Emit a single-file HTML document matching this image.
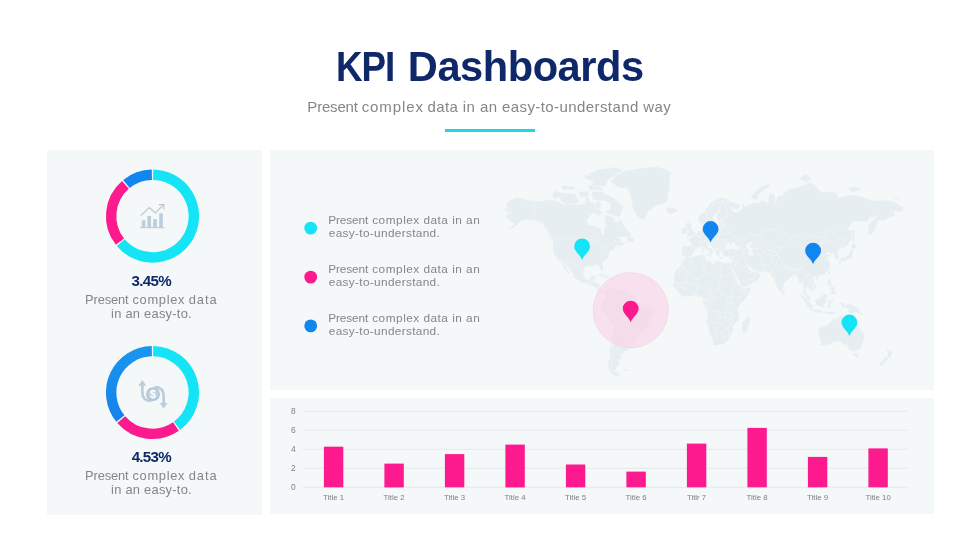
<!DOCTYPE html>
<html lang="en">
<head>
<meta charset="utf-8">
<title>KPI Dashboards</title>
<style>
html,body{margin:0;padding:0;background:#fff}
body{width:980px;height:551px;position:relative;overflow:hidden;font-family:"Liberation Sans",sans-serif}
.panel{position:absolute;background:#f4f8f9}
#p1{left:46.5px;top:150px;width:215.7px;height:364.5px}
#p2{left:269.5px;top:150px;width:664.5px;height:239.5px}
#p3{left:269.5px;top:397.7px;width:664.5px;height:116.8px}
#rule{position:absolute;left:445px;top:128.8px;width:89.8px;height:3.3px;background:#21d7e6}
.t{position:absolute;white-space:pre;line-height:1;margin:0;width:980px}
.t span{position:absolute;top:0;white-space:pre}
svg{position:absolute;left:0;top:0}
svg text{font-family:"Liberation Sans",sans-serif}
#t1{left:0;top:46px;font-size:41.6px;font-weight:700;color:#0f2869}
#t2{left:0;top:99px;font-size:15.0px;font-weight:400;color:#83868a}
#v1{left:0;top:273px;font-size:15.1px;font-weight:700;color:#0f2869}
#a1{left:0;top:294px;font-size:12.9px;font-weight:400;color:#83868a}
#a2{left:0;top:308px;font-size:12.9px;font-weight:400;color:#83868a}
#v2{left:0;top:449px;font-size:15.1px;font-weight:700;color:#0f2869}
#b1{left:0;top:470px;font-size:12.9px;font-weight:400;color:#83868a}
#b2{left:0;top:484px;font-size:12.9px;font-weight:400;color:#83868a}
#l0a{left:0;top:215px;font-size:11.8px;font-weight:400;color:#83868a}
#l0b{left:0;top:228px;font-size:11.8px;font-weight:400;color:#83868a}
#l1a{left:0;top:264px;font-size:11.8px;font-weight:400;color:#83868a}
#l1b{left:0;top:277px;font-size:11.8px;font-weight:400;color:#83868a}
#l2a{left:0;top:313px;font-size:11.8px;font-weight:400;color:#83868a}
#l2b{left:0;top:326px;font-size:11.8px;font-weight:400;color:#83868a}
</style>
</head>
<body>
<div class="panel" id="p1"></div>
<div class="panel" id="p2"></div>
<div class="panel" id="p3"></div>
<div id="rule"></div>
<svg width="980" height="551" viewBox="0 0 980 551">
<path d="M504.0 209.6L508.5 207.8L505.7 204.1L511.9 199.9L516.9 197.8L526.5 199.9L534.4 201.4L542.2 201.6L549.0 199.9L555.8 201.0L563.6 204.8L571.5 204.4L579.4 205.2L585.0 204.1L586.7 196.4L590.6 202.1L596.2 204.8L597.4 201.0L601.3 203.7L599.6 208.2L595.7 208.4L594.0 212.7L590.6 214.6L587.2 219.2L586.7 222.4L588.9 225.3L594.0 226.1L600.2 228.3L600.8 232.1L602.4 234.7L604.1 234.2L604.1 229.5L606.7 225.6L604.7 222.2L605.8 215.7L610.3 216.1L614.2 218.3L614.8 222.2L618.8 222.2L620.2 219.5L623.5 224.8L625.5 228.7L629.4 231.9L630.2 234.3L626.6 236.4L618.8 236.4L615.4 239.0L620.4 238.4L619.9 240.9L621.0 242.5L624.4 243.1L625.5 242.5L624.4 244.0L621.6 244.9L619.2 246.5L618.8 244.3L617.6 244.7L614.2 246.5L614.2 249.1L609.8 250.7L608.1 254.3L608.1 258.1L605.2 259.8L601.9 263.1L603.0 268.9L602.4 271.2L601.0 270.2L600.0 267.7L598.5 265.1L596.2 264.7L592.9 264.8L592.5 266.4L590.6 266.0L587.2 265.7L583.9 267.7L583.3 270.9L583.0 274.7L585.0 278.8L586.7 280.0L590.1 279.6L591.2 276.5L595.1 275.9L594.6 279.6L593.4 282.7L596.2 282.8L599.3 283.9L598.8 288.8L600.2 290.9L603.0 291.0L604.1 290.6L606.0 291.8L605.8 293.4L604.7 291.8L603.0 293.3L599.9 292.2L597.4 290.0L596.5 288.8L594.6 286.4L591.8 285.4L589.2 284.3L586.7 282.5L583.9 283.0L580.5 281.5L576.0 279.0L574.3 277.2L574.3 274.7L571.5 271.1L569.2 268.3L566.4 265.7L565.6 263.3L563.9 262.8L564.2 265.1L566.4 268.3L568.1 270.9L569.5 274.0L567.0 271.8L564.2 268.3L562.7 265.1L561.1 261.6L559.7 259.8L557.3 258.9L555.8 256.0L555.1 254.6L553.5 251.1L553.2 247.2L553.5 242.5L552.7 239.2L554.6 238.3L552.4 236.2L549.6 234.3L546.8 229.5L545.1 227.0L542.2 223.1L538.9 222.2L535.5 220.4L531.0 220.1L526.5 219.2L522.6 221.3L522.0 218.6L520.3 221.3L516.9 224.8L513.0 227.7L507.9 229.2L511.9 226.5L515.2 223.2L515.8 222.2L510.8 222.2L510.8 220.1L507.4 218.3L506.2 215.9L507.4 214.6L511.9 213.1L511.9 211.7L507.4 211.7ZM610.9 181.3L616.5 175.2L625.5 170.9L642.4 168.6L655.9 167.1L664.9 169.2L670.5 172.4L669.4 177.9L669.4 184.4L668.8 190.5L667.1 196.2L667.7 199.9L663.8 203.7L657.0 204.8L651.4 208.8L648.0 210.8L645.2 216.4L644.1 220.1L641.2 218.6L637.9 216.4L635.1 212.3L632.8 206.8L632.2 201.6L631.1 197.3L627.8 188.1L618.8 186.9L613.1 183.6ZM592.3 192.1L601.9 192.1L606.4 194.4L613.1 198.0L617.1 201.6L623.2 207.2L621.0 210.8L619.9 216.8L612.6 214.9L605.2 211.7L610.3 209.8L610.9 203.7L604.1 200.1L597.4 200.6L592.9 198.4ZM560.2 197.3L563.6 193.3L574.9 194.0L578.8 201.6L573.8 203.3L565.9 203.7L561.4 201.0ZM552.4 196.2L554.6 190.9L562.5 193.3L559.1 197.3L553.5 198.0ZM591.8 185.6L605.2 185.6L608.6 179.2L623.2 169.5L614.2 167.7L597.4 170.1L589.5 173.8L595.1 177.9ZM589.5 185.6L603.0 188.1L602.4 190.2L589.5 189.8ZM562.5 185.6L574.9 186.9L573.8 189.3L562.5 189.3ZM578.2 192.1L588.4 191.6L587.8 196.2L580.5 196.7ZM585.0 175.2L594.0 176.5L594.0 181.1L585.0 177.9ZM595.1 209.8L598.5 209.2L602.4 212.7L599.6 214.9L595.1 213.4ZM626.3 240.1L630.0 234.3L630.6 236.7L633.4 239.0L633.6 241.6L630.6 241.6ZM548.7 235.6L552.4 236.7L554.2 239.2L551.8 238.6ZM597.4 275.5L600.8 273.8L606.4 275.9L609.5 277.5L605.6 278.0L604.7 276.5L600.8 275.3L598.5 275.5ZM609.3 279.6L611.1 277.9L616.0 279.5L612.6 280.5ZM666.0 209.8L668.2 208.0L675.0 208.0L677.8 210.8L672.2 213.8L667.7 212.9ZM606.0 291.8L608.1 289.0L612.0 287.3L612.6 288.8L614.2 287.6L616.5 289.3L621.0 289.6L623.2 289.2L625.5 291.8L628.9 294.8L632.2 295.1L635.1 296.7L636.8 300.2L636.8 302.0L639.0 302.8L642.9 305.0L648.0 305.3L651.4 307.7L653.6 308.6L653.9 311.6L651.4 315.2L649.1 317.6L649.1 322.5L647.4 327.5L645.8 329.8L642.4 330.7L638.4 333.8L638.2 337.0L634.5 342.2L632.8 344.7L629.4 345.3L627.4 344.2L628.9 347.6L628.1 350.0L623.2 351.1L622.9 353.9L619.9 353.9L621.3 356.5L619.5 359.7L617.1 361.5L619.0 363.9L616.5 367.3L615.4 370.8L616.2 372.1L619.6 375.0L615.9 376.2L612.6 373.7L609.8 371.3L608.1 365.0L609.2 360.4L610.9 355.3L610.0 351.1L610.6 348.3L612.6 342.9L612.6 337.6L613.9 331.2L613.9 324.1L611.4 322.3L607.3 318.6L604.7 313.4L601.9 309.2L601.5 307.4L603.0 305.6L602.0 304.6L603.0 302.0L603.0 300.8L604.4 299.8L605.8 297.2L605.9 294.2L605.4 293.3ZM686.4 257.3L690.8 258.1L696.4 256.0L704.2 255.3L705.4 258.4L704.6 260.0L706.5 261.4L710.4 262.4L714.4 264.7L715.5 261.8L718.9 261.6L721.1 262.8L725.6 263.7L729.3 263.3L729.6 265.1L730.7 267.7L732.9 272.8L735.0 276.5L734.9 279.0L737.2 283.3L741.4 287.0L741.7 288.2L745.9 288.6L750.6 287.7L750.1 290.6L747.0 296.0L744.8 299.0L740.8 303.2L738.0 306.2L737.2 310.1L738.6 314.6L738.7 320.1L734.6 323.5L732.4 326.2L732.9 331.2L730.0 333.8L729.6 337.4L727.3 340.3L723.4 344.0L718.9 344.5L715.5 345.3L713.7 344.5L713.5 341.6L711.6 337.1L709.9 333.8L709.3 329.3L706.3 322.5L708.1 317.0L708.5 314.6L706.8 309.2L706.3 307.4L703.5 303.2L703.7 300.8L703.9 297.5L702.6 296.6L699.8 296.9L697.5 294.5L695.8 294.5L691.9 295.8L689.6 296.0L687.4 295.8L684.6 296.7L682.9 296.0L680.1 293.7L678.1 291.8L677.8 290.6L676.1 288.8L674.2 287.0L673.3 284.3L674.7 282.1L674.7 279.0L673.9 276.5L675.0 273.4L676.7 270.2L678.4 268.0L681.8 265.7L682.0 263.1L683.4 260.7L685.7 259.1ZM748.5 316.4L749.8 320.7L748.7 323.7L746.4 332.2L743.6 333.1L741.9 328.7L742.8 325.6L742.5 322.5L745.3 320.7L747.0 318.2ZM686.7 257.0L682.9 255.7L682.3 253.3L683.1 249.4L682.6 246.9L684.0 246.2L689.1 246.5L691.1 246.6L691.6 242.8L690.2 240.9L687.7 239.2L691.2 238.7L691.3 237.2L693.2 237.3L694.8 235.5L696.9 234.5L698.3 231.9L700.9 231.1L702.6 230.3L702.1 226.1L704.8 224.1L704.8 227.0L704.2 229.5L705.4 230.3L708.8 230.3L713.8 229.2L716.6 228.3L716.6 225.3L720.0 224.8L719.4 221.8L724.5 220.6L726.8 220.1L721.1 219.7L717.8 220.1L717.2 217.3L717.0 214.6L721.1 210.8L720.0 209.2L717.2 211.7L712.7 216.4L712.5 219.2L714.4 220.9L711.6 225.3L711.0 226.7L709.0 228.0L707.4 227.8L707.1 226.1L705.6 221.8L702.0 223.4L699.2 221.8L698.6 217.3L700.9 214.6L704.2 212.7L707.6 207.8L709.9 204.1L713.8 201.0L718.9 198.9L721.9 198.2L724.5 198.4L727.9 199.9L730.1 201.6L739.1 204.8L739.1 207.2L738.0 208.8L732.4 207.8L729.6 206.8L731.8 210.8L734.6 212.7L738.6 211.7L742.5 208.8L742.5 203.7L745.9 206.8L752.6 203.7L760.5 202.7L761.6 200.6L768.4 203.7L768.4 198.4L770.1 194.0L774.6 195.1L775.1 203.7L775.1 206.8L777.4 197.3L779.6 196.2L783.6 196.2L784.1 192.8L790.9 189.3L799.9 186.9L810.3 182.6L814.5 185.1L820.7 192.1L835.9 192.8L839.2 198.4L842.6 197.3L850.5 195.1L861.8 197.3L873.0 201.2L884.2 200.6L891.0 201.2L895.5 202.7L903.9 208.2L901.1 211.7L895.5 210.8L893.2 211.7L894.9 215.5L888.8 217.0L884.2 220.1L878.6 220.1L876.9 223.6L875.2 227.0L875.2 229.0L873.0 231.9L869.3 235.1L868.0 228.7L869.6 223.9L873.0 220.1L876.9 216.8L876.4 215.5L873.0 217.3L869.1 217.3L867.4 221.3L860.6 220.9L853.9 221.3L850.5 224.4L847.1 229.5L851.6 231.5L851.6 233.5L851.1 239.0L848.2 243.6L844.9 246.8L841.5 247.2L839.8 248.2L838.7 250.4L836.4 252.2L838.5 255.7L838.1 258.3L835.3 259.3L835.1 255.7L833.6 254.3L833.6 252.1L829.7 253.2L830.2 250.8L825.8 252.9L825.5 253.9L826.9 255.3L830.8 255.4L828.0 257.0L827.2 258.7L829.1 261.8L830.2 263.7L829.7 267.0L827.4 270.9L824.6 273.4L821.2 274.9L817.3 276.3L816.8 277.4L815.1 275.7L813.0 277.2L812.0 279.0L813.9 282.1L816.0 286.4L815.6 288.2L813.4 289.5L811.1 291.6L811.1 290.0L808.9 289.0L808.3 287.6L806.5 285.8L805.5 287.6L804.7 290.0L805.8 292.4L807.2 293.9L809.3 296.6L810.2 300.3L807.0 298.7L805.8 295.4L803.6 292.4L803.9 289.4L803.2 285.8L802.7 282.1L800.4 282.7L799.3 282.7L799.1 279.6L796.8 276.5L795.9 274.7L793.1 275.5L790.9 276.2L790.3 277.8L787.5 279.9L785.2 282.1L783.2 283.3L783.2 286.4L782.8 289.6L781.9 290.9L780.2 292.3L778.8 290.1L777.1 286.4L775.7 282.7L774.9 279.0L774.8 276.5L772.3 276.8L770.6 275.3L771.8 274.7L770.1 273.4L768.4 271.8L765.0 271.1L762.2 271.4L757.7 270.7L756.6 268.9L753.8 269.3L750.9 267.9L749.2 265.1L747.6 265.1L747.0 265.7L749.2 269.6L750.9 271.5L751.0 272.5L753.8 272.5L756.2 270.0L756.7 272.1L759.0 273.3L760.3 274.7L758.2 279.0L754.9 281.5L751.5 283.2L747.6 285.2L743.6 286.6L741.7 286.7L741.0 283.9L738.6 279.0L736.9 275.9L735.2 272.4L732.4 267.7L732.1 265.7L731.5 267.9L729.7 265.1L729.3 263.3L731.6 263.3L732.4 261.4L733.3 258.4L733.7 256.0L731.2 256.6L729.0 256.8L727.3 256.4L724.5 256.1L723.7 255.0L722.6 252.5L722.5 251.5L725.6 250.1L727.9 249.8L732.4 248.7L735.2 250.1L739.7 249.4L739.1 247.2L735.2 244.7L736.3 241.3L732.4 242.8L730.7 245.0L730.1 242.8L727.5 242.1L726.4 244.0L725.1 246.5L724.5 248.7L725.4 249.8L722.8 250.5L720.0 250.4L719.4 251.5L718.9 250.8L718.9 252.5L720.0 254.3L718.3 256.4L717.0 254.6L715.5 252.2L714.8 249.4L712.7 247.2L709.9 245.0L708.3 243.4L706.8 243.8L707.1 245.8L708.8 248.2L711.0 248.9L713.8 251.2L712.1 250.8L711.6 252.2L712.2 252.9L710.7 254.3L711.0 252.9L710.2 251.2L709.0 250.4L706.8 249.1L704.8 247.4L704.2 245.8L702.9 245.2L701.2 246.2L698.6 246.6L696.6 246.9L696.6 248.2L693.9 250.1L693.0 252.2L692.7 253.3L690.8 256.0L687.9 256.1ZM745.9 244.3L748.7 242.1L752.6 241.8L752.6 244.3L750.4 245.0L749.6 245.3L750.9 247.2L752.4 249.4L752.6 251.5L753.5 252.9L753.5 255.7L750.4 256.0L748.1 255.0L748.1 252.9L749.2 251.1L747.6 248.7L746.4 247.2ZM686.6 236.7L689.1 236.2L694.6 235.0L694.9 232.4L693.2 231.1L691.3 228.7L690.8 227.0L691.0 224.3L688.5 224.1L689.6 222.5L687.4 222.5L686.2 224.8L686.8 227.0L687.4 229.0L689.6 230.3L689.6 231.3L687.9 231.5L687.9 233.2L687.1 233.9L689.6 234.5L687.9 235.1ZM681.8 234.0L685.9 233.2L686.2 231.1L686.8 229.2L686.2 228.3L683.7 228.3L681.8 230.0L682.3 231.9ZM750.9 197.3L754.9 192.8L760.5 186.9L770.1 184.4L767.2 188.1L758.2 194.0L757.1 199.1L752.6 198.9ZM799.9 179.2L805.5 173.8L811.1 179.2L805.5 181.8ZM847.1 188.1L856.1 186.9L861.8 189.3L852.8 192.1ZM893.8 198.4L897.8 197.3L898.3 198.6ZM852.8 229.8L854.2 231.9L854.4 236.7L853.9 241.3L853.3 242.8L852.8 239.8L852.8 235.1L852.5 231.1ZM850.5 249.4L852.2 247.2L852.5 243.7L856.5 245.8L856.1 247.2L854.2 248.7L851.6 248.2ZM852.1 249.5L852.8 252.2L851.6 255.0L851.4 257.7L849.9 258.4L847.1 258.9L845.7 260.4L844.9 258.9L842.1 259.5L840.4 259.8L840.4 259.1L842.6 257.6L846.0 257.5L847.1 255.4L848.8 255.3L850.5 251.8L850.5 250.1ZM839.2 260.4L841.2 260.3L840.9 263.1L839.6 263.5L839.0 261.4ZM842.1 260.4L844.3 259.5L844.1 260.7L842.6 261.4ZM829.1 271.2L830.2 271.5L829.1 275.3L828.2 274.0ZM815.3 278.7L817.1 277.7L817.9 278.2L816.2 280.0ZM783.0 290.3L785.0 293.0L784.1 294.8L783.0 294.8L782.7 292.4ZM828.3 279.6L830.5 279.6L830.2 282.7L832.5 286.4L831.9 286.6L829.1 285.5L828.3 284.3L828.0 282.7ZM830.2 293.6L831.9 291.8L834.2 290.3L835.3 293.0L834.2 295.2L832.5 293.6ZM830.2 287.8L834.2 287.0L834.2 290.0L831.4 290.9ZM815.6 300.2L817.3 299.8L818.4 298.7L820.1 298.2L822.4 296.0L824.6 293.6L826.9 295.7L825.8 296.9L825.8 299.0L826.9 300.8L825.2 301.0L825.2 303.2L823.8 304.4L823.5 306.8L821.8 306.8L820.1 305.8L818.4 305.9L817.0 305.3L816.8 303.6L815.6 301.6ZM800.2 295.3L802.7 295.8L806.1 299.4L809.4 302.0L810.6 304.2L812.2 305.6L812.0 309.1L810.6 308.9L808.1 306.8L806.1 303.6L804.0 300.0L802.1 298.1ZM811.4 310.1L813.0 309.2L815.1 309.9L817.6 309.7L819.8 310.3L821.8 311.3L821.7 312.4L816.8 311.8L812.8 310.9ZM827.4 308.6L828.5 305.6L828.0 302.6L828.9 300.4L833.6 300.1L832.5 301.5L828.9 301.4L829.7 303.2L831.7 303.1L829.9 304.4L830.8 307.4L829.7 307.7L829.1 305.2L828.3 308.6ZM823.5 312.2L826.9 312.1L831.4 311.9L833.6 312.2L835.9 312.1L833.6 313.4L831.9 314.4L828.0 313.4L823.5 312.8ZM840.4 303.0L843.8 303.0L844.9 305.9L848.2 304.0L851.6 305.1L856.1 307.1L858.9 309.2L859.5 311.6L862.5 314.6L858.4 313.4L855.6 311.2L853.9 313.0L851.6 312.9L848.8 311.9L848.2 308.6L845.4 307.3L842.6 306.8L841.5 305.3ZM819.6 328.5L819.0 331.9L819.0 333.8L820.7 338.9L821.5 341.6L820.7 344.7L824.1 345.6L826.3 344.2L830.2 344.2L833.1 342.0L836.4 341.2L838.9 340.9L842.1 342.6L843.8 345.3L846.3 342.6L846.6 346.3L848.2 347.0L849.4 349.7L852.8 350.8L854.4 350.0L855.9 351.2L857.8 349.4L860.1 348.7L861.2 344.2L862.9 342.0L864.0 337.0L863.4 332.9L861.2 330.7L859.3 328.1L856.7 325.3L855.6 323.1L854.9 320.1L852.9 319.1L851.6 315.0L850.7 317.6L850.5 321.3L849.7 323.2L847.7 323.1L844.1 320.1L845.2 316.8L843.2 316.4L840.4 315.8L838.7 316.8L837.3 319.8L835.5 319.8L834.2 318.8L831.9 320.7L830.2 322.8L828.8 323.7L827.4 325.7L824.1 326.7L821.2 327.7ZM854.1 353.5L858.1 353.8L857.8 356.8L856.5 357.7L854.7 355.6ZM886.2 348.0L888.2 350.1L889.3 351.2L892.7 352.5L891.0 354.6L890.9 356.5L889.0 358.1L888.4 355.5L887.4 354.8L888.5 352.6L886.7 348.7ZM886.2 356.5L888.0 358.2L886.5 360.6L884.5 362.1L883.7 364.7L881.4 365.6L879.2 364.7L881.2 361.6L884.2 359.1ZM707.1 254.3L710.5 253.9L710.0 256.1L707.1 254.8ZM702.2 250.1L703.9 250.1L703.8 252.6L702.5 252.9ZM702.7 247.5L703.7 247.2L703.6 249.4L702.8 249.1ZM719.4 257.7L722.6 258.1L720.0 258.5ZM729.3 258.4L731.8 257.6L730.9 258.8ZM624.4 369.7L627.8 369.7L626.6 370.9Z" fill="#e7eef1" fill-rule="evenodd" stroke="#e7eef1" stroke-width="0.6" stroke-linejoin="round"/><path d="M534.4 201.4L534.4 219.5L538.3 221.8L541.1 220.8L543.4 225.3L546.8 227.3M554.6 238.3L586.1 238.3L592.3 239.8L597.9 242.1L600.2 243.8L600.2 248.7L604.1 246.8L606.9 245.8L609.0 244.3L612.6 244.3L615.1 240.7L616.7 241.3L617.6 244.4M561.3 261.8L564.0 261.5L568.1 263.3L571.3 263.3L571.3 262.7L573.2 262.7L575.4 265.6L577.1 266.4L578.8 265.3L581.1 268.3L583.6 270.4M589.3 284.4L590.1 281.2L592.6 280.5L593.7 279.8M592.6 280.5L592.6 283.0L593.7 283.1M594.6 286.4L596.8 285.2L599.3 283.9M596.6 288.7L598.8 288.9M599.7 292.3L600.1 290.6M635.0 297.2L632.2 299.3L630.0 299.6L627.8 300.2L625.5 296.0L623.8 297.2L621.0 297.2L621.0 299.6L617.6 300.6L614.2 301.4L614.2 307.0L610.9 310.7L610.1 313.3L613.7 313.4L613.7 315.2L615.7 315.2L619.5 314.0L619.9 316.4L624.9 318.5L625.5 321.5L627.4 321.6L628.3 323.7L627.8 326.2L628.0 328.7L630.3 329.1L631.9 331.2L631.6 333.3L632.6 334.9L630.2 336.7L628.2 339.2L630.0 340.3L632.9 343.8M617.6 329.7L615.9 331.9L616.2 335.1L614.5 338.9L614.2 342.9L613.9 346.3L613.1 349.7L612.3 355.3L612.6 359.7L612.0 363.4L611.4 367.3L612.0 370.5L615.9 370.9M612.8 287.6L611.4 288.8L611.7 291.2L612.0 293.4L614.2 293.6L617.1 294.6L617.3 299.6L617.6 300.6M625.5 291.8L624.4 294.8L625.5 296.0M628.9 294.8L628.3 297.8L629.4 299.6M632.2 295.1L631.9 297.8L632.2 299.3M604.4 300.2L606.4 301.4L608.3 302.2L608.1 305.0L605.2 306.2L604.1 308.0L602.7 307.3L602.8 306.1M608.3 302.2L610.9 304.7L614.2 305.0L614.2 307.0M613.8 324.1L614.8 323.1L615.4 320.4L615.7 317.0L615.7 315.2M614.8 323.1L616.5 325.0L615.9 327.5L617.6 329.7L619.9 328.7L622.7 329.1L622.9 326.8L627.5 326.0L627.8 326.2M622.7 329.1L627.8 332.9L628.2 335.4L630.2 335.6L631.6 333.3M627.4 344.2L627.5 342.2L628.2 339.2M683.1 248.8L685.7 248.8L685.4 251.5L684.6 255.3M691.1 246.8L693.8 247.7L696.5 248.1M695.8 235.0L697.8 236.7L699.8 237.5L702.2 238.3L701.5 240.4L699.9 242.5L700.9 243.0L700.6 245.5L701.4 246.1M701.1 231.5L700.9 233.5L699.8 235.5L699.8 237.5M696.8 234.5L699.2 234.7L699.8 235.5M701.5 240.4L703.8 240.6L704.7 241.5L703.5 242.2L700.9 243.0M703.8 240.6L707.6 240.6L707.6 239.0L709.6 238.6L712.1 238.6L712.2 239.8L711.2 241.5L708.4 242.1L704.7 241.5M702.8 228.8L704.1 229.0M709.0 230.5L709.5 233.5L709.9 235.1L706.6 236.2L708.5 238.6M709.9 235.1L714.1 237.5L718.4 238.1L720.0 235.6L719.5 232.7L719.9 230.3L718.6 229.7L715.0 229.7M714.1 237.5L712.2 238.6M718.4 238.1L717.9 239.2L712.2 239.8M717.9 239.2L721.0 240.2L722.9 239.5L724.7 243.6L726.4 244.0M711.2 241.5L711.6 242.2L714.1 243.0L715.8 242.7L717.9 239.2M715.8 242.7L718.5 245.0L718.5 246.1L725.2 246.2M718.5 245.0L717.1 244.4L714.4 244.4L714.8 247.2L715.8 248.2L714.8 248.8M708.4 242.1L708.3 243.4M708.4 243.7L710.2 243.6L711.6 242.2M710.8 244.0L711.0 241.6M714.4 244.4L710.8 244.0L711.0 245.8L712.8 247.2M715.8 248.2L718.2 248.2L718.9 249.7L722.6 249.1L722.8 250.1L722.2 250.5M718.2 248.2L718.8 246.9L718.5 246.1M715.5 251.9L716.6 250.4L718.9 249.7M716.6 250.4L716.2 248.8M722.6 249.1L724.5 248.7M724.5 220.9L723.9 224.4L724.5 227.0L722.9 227.5L721.7 229.8L719.9 230.3M716.7 226.8L721.1 226.3L723.9 224.4M720.3 223.7L723.7 224.3M718.6 229.7L718.6 228.7L716.9 228.2M724.5 227.0L727.8 227.7L729.8 231.3L728.4 233.4L719.5 234.2M728.4 233.4L731.6 233.9L732.9 236.1L738.0 237.3L737.8 239.9L736.0 241.2M722.9 239.5L725.9 239.8L726.9 242.2M724.3 219.2L726.8 215.5L726.8 210.8L725.6 206.8L725.1 203.7L725.6 202.5L727.8 201.4M725.6 202.5L722.2 200.8L722.0 203.3L719.7 205.0L720.0 209.2M722.0 203.3L716.2 202.5L713.2 203.7L710.4 208.4L708.8 212.3L706.7 213.6L706.7 218.3L707.2 219.7L705.6 221.8M724.5 200.4L722.2 200.8M738.0 240.1L740.2 240.4L743.1 240.1L745.9 239.5L745.5 237.0L747.6 235.8L750.4 234.2L754.9 235.1L759.4 235.6L762.2 235.1L761.6 230.6L769.5 228.5L772.9 230.0L778.5 230.0L783.0 235.1L786.4 235.1L791.2 237.9L796.5 235.6L803.2 236.7L803.2 233.5L807.8 234.3L813.4 236.7L819.0 237.5L824.3 237.0L828.0 231.5L833.6 231.6L836.4 236.7L840.0 238.6L844.9 239.2L842.6 244.3L840.4 244.6L839.9 247.9M791.2 237.9L795.4 243.6L800.4 245.3L802.1 247.7L810.0 248.9L817.3 247.5L819.0 244.3L823.5 242.1L827.8 241.8L824.3 237.0M791.2 237.9L789.2 241.3L785.8 243.8L783.0 248.4L776.0 252.2L777.4 255.7L781.3 259.1L781.9 263.7L784.4 265.1L789.8 267.7L792.9 268.6L796.5 268.9L802.5 267.3L803.8 271.5L802.9 272.8L804.7 275.3L807.2 276.3L808.0 274.7L811.5 273.7L813.0 275.3L814.5 275.9M783.0 248.4L777.4 247.5L772.9 248.2L770.6 249.7L767.8 249.9L762.8 246.5L758.9 243.6L756.0 244.3L756.0 249.7L753.8 248.7L752.4 249.1M756.0 249.7L758.8 247.7L762.0 249.8L763.3 251.5L767.8 255.1L769.5 255.7L773.4 256.1L776.8 255.4L777.4 255.7M767.8 249.9L769.5 250.4L772.3 251.2L776.0 252.2M753.6 255.3L757.1 254.0L761.9 256.2L761.4 259.8L761.6 263.2L762.5 265.3L764.2 265.7L762.3 271.2M761.9 256.2L763.9 257.3L765.6 256.6L767.8 255.1M762.5 265.3L767.6 265.3L771.8 261.1L773.1 259.5L773.4 256.1M769.7 273.0L772.9 272.1L771.8 267.9L775.1 265.1L776.8 261.8L777.9 259.1L781.3 259.1M784.4 265.1L783.2 266.6L787.5 268.3L792.1 269.6L792.9 268.6M792.1 269.6L793.1 269.8L796.5 269.2L796.5 268.9M793.1 275.5L792.2 272.1L792.6 269.7M794.0 270.2L796.8 271.5L795.7 273.4L797.1 274.4L796.8 276.5M797.1 274.4L798.0 272.8L799.5 271.1L802.5 267.3M803.5 290.0L804.4 286.4L803.6 283.3L802.8 280.3L804.7 277.8L805.7 277.4L807.2 276.3M805.7 277.4L806.9 280.9L808.5 280.3L810.9 282.1L811.8 284.6L814.0 284.6L813.9 282.1M808.5 280.3L810.6 278.4L809.4 277.0L808.0 274.7M808.8 288.0L808.2 285.2L811.8 284.6M814.0 284.6L813.9 287.2L812.1 288.2L810.6 289.5M805.6 294.2L806.7 295.2L807.9 294.6M832.8 251.5L835.8 248.9L837.3 249.4L838.9 247.2L839.9 247.9M834.9 254.7L837.5 253.5M722.2 250.5L722.6 249.1M739.7 249.4L741.9 249.9L743.4 251.9L742.8 255.4L740.7 255.5L734.3 256.0L733.7 257.0M738.0 246.5L741.9 247.8L745.3 248.9L747.6 248.9M741.9 249.9L745.3 249.9L748.0 253.7M743.4 251.9L745.3 253.0L747.0 252.2L748.0 253.7M742.8 255.4L745.0 258.1L744.1 259.8L745.0 261.1L746.8 262.7L747.7 265.1M740.7 255.5L739.4 258.7L736.9 260.6L736.9 262.4L734.6 263.1L735.8 264.4L734.5 266.1L732.4 265.7M736.9 262.4L740.2 263.5L743.3 266.1L745.3 266.2L746.7 265.1M734.5 266.1L735.2 266.4L736.9 262.4M745.3 266.2L746.4 267.0L747.6 267.0M732.9 260.8L733.4 261.5L736.9 260.6M732.5 261.0L734.2 259.5L733.5 258.9M731.6 263.3L732.3 265.7M751.5 279.0L754.9 277.8L755.7 275.3L755.1 274.4L752.2 274.2L751.0 272.5M755.7 275.3L756.5 271.6M741.7 282.0L743.1 281.0L745.9 281.5L748.1 279.5L751.5 279.0L752.7 281.9M678.4 268.0L683.2 268.0L683.2 266.7L687.4 265.1L691.3 262.2L690.5 258.3M683.2 268.0L683.2 270.2L679.5 270.2L679.5 273.4L678.4 274.0L678.4 276.2L673.9 276.2M683.2 268.6L687.6 271.5L694.1 276.5L696.7 279.0L699.8 278.4L706.5 273.4L703.7 269.6L704.0 265.1L702.3 261.8L701.4 259.9L702.7 255.8M704.0 265.1L705.9 260.8M706.5 273.4L709.9 274.0L720.0 278.4L720.0 277.8L721.1 277.8L721.1 262.9M721.1 275.3L734.4 275.3M674.4 282.6L676.9 282.0L679.3 284.2L680.2 287.1L677.6 286.9L674.2 287.1M679.3 284.2L680.1 283.2L686.8 283.3L685.7 271.5L687.6 271.5M678.4 276.2L678.4 274.0L679.5 273.4M680.2 287.1L683.5 287.2L684.0 289.8L686.8 289.5L687.0 287.8L689.6 285.4L693.2 283.9L696.9 283.5L697.7 282.1L697.7 278.8L696.7 279.0M693.2 283.9L694.0 285.8L695.5 287.1L697.0 288.0L697.0 290.0L696.0 292.5L696.0 294.3M697.0 288.0L697.6 285.8L700.9 286.4L704.2 286.0L708.3 285.5L709.0 286.6L710.0 290.0L707.9 290.5L706.3 293.6L703.1 296.0L702.7 296.3M708.3 285.5L710.4 281.6L709.9 274.0M709.0 286.6L710.1 287.6L710.0 290.0M720.0 278.4L720.0 283.1L718.3 285.2L718.8 288.8L719.7 291.6L723.8 295.9L727.6 297.8M710.0 290.0L710.4 293.0L713.9 292.4L718.8 288.8M710.4 293.0L709.3 295.8L711.1 299.4L713.9 297.8L713.9 296.7L718.2 297.1L721.1 296.0L723.8 295.9M704.0 299.3L708.0 299.4L711.1 299.4M713.9 297.8L713.1 302.6L711.2 304.4L709.2 307.4L706.7 308.9M703.9 300.7L705.7 300.8L705.8 299.3M705.6 306.7L707.1 304.7L709.3 304.3L709.2 303.6L708.0 300.4M706.8 309.2L711.7 309.1L712.7 311.7L717.5 310.7L717.8 315.2L720.0 315.2L720.0 317.6M731.1 275.3L734.5 281.5L734.0 284.4L731.4 289.4L730.1 292.7L732.4 295.5L731.2 297.0L727.6 297.8M734.0 284.4L735.8 284.3L738.0 284.6L740.7 287.0L741.5 286.7M740.7 287.0L740.0 288.8L741.4 288.2M740.0 288.8L741.4 290.6L747.0 292.4L743.6 296.0L740.2 297.0L739.1 297.3L737.4 297.9L733.5 296.7L732.4 295.5M739.8 304.0L739.1 302.0L739.1 297.3M731.2 297.0L731.8 300.8L731.1 303.2L735.4 305.7L737.1 307.6M727.6 297.8L727.9 299.4L726.3 302.7L726.3 303.7L727.3 304.9L725.6 305.3L726.1 307.4L726.0 309.8L727.6 311.9L725.1 313.0L725.0 316.2L726.5 316.7L726.5 318.1L720.0 317.6M727.3 303.2L731.1 303.2M727.6 311.9L730.0 313.3L731.2 313.4L731.9 315.9L735.2 316.0L738.5 314.6M730.0 313.3L730.5 318.8L727.0 320.1M731.9 315.9L733.3 321.3L731.6 319.3L730.5 318.8M720.0 317.6L717.8 317.6L717.8 321.5L719.3 323.2L721.5 323.5L723.4 323.6L727.2 320.8L730.1 318.8M706.3 322.8L708.8 323.0L713.8 323.0L719.3 323.2M721.5 323.5L726.1 329.0L728.2 329.2L729.6 327.8L730.1 325.6L730.0 322.1L727.2 320.8M715.5 328.7L715.5 332.2L715.5 336.9L711.6 337.1M716.6 324.1L716.6 328.7L715.5 328.7M715.5 332.2L718.4 333.9L721.8 333.3L723.4 330.7L726.1 329.0M728.2 329.2L729.0 331.9L728.9 334.8L730.0 334.8M723.6 338.4L725.2 337.1L726.1 338.2L724.7 339.5L723.6 338.4" fill="none" stroke="#f4f8f9" stroke-width="0.55" stroke-linejoin="round" stroke-opacity="0.9"/>
<defs>
<linearGradient id="gb" x1="0" y1="0" x2="0" y2="1"><stop offset="0" stop-color="#1995f0"/><stop offset="1" stop-color="#1582eb"/></linearGradient>
<linearGradient id="gc" x1="0" y1="0" x2="0" y2="1"><stop offset="0" stop-color="#19e0f5"/><stop offset="1" stop-color="#12e8f8"/></linearGradient>
</defs>
<g fill="none" stroke-width="10.4"><path d="M153.15 174.76A41.35 41.35 0 1 1 120.78 242.62" stroke="#14e4f6"/><path d="M119.96 241.61A41.35 41.35 0 0 1 125.43 184.85" stroke="#fc1a8e"/><path d="M126.42 184.01A41.35 41.35 0 0 1 151.85 174.76" stroke="#1186f0"/></g>
<g fill="none" stroke-width="10.4"><path d="M153.15 351.16A41.35 41.35 0 0 1 177.04 425.78" stroke="#14e4f6"/><path d="M175.98 426.54A41.35 41.35 0 0 1 121.25 419.57" stroke="#fc1a8e"/><path d="M120.41 418.58A41.35 41.35 0 0 1 151.85 351.16" stroke="url(#gb)"/></g>
<circle cx="310.7" cy="228.1" r="6.4" fill="#14e4f6"/>
<circle cx="310.7" cy="277.1" r="6.4" fill="#fc1a8e"/>
<circle cx="310.7" cy="325.9" r="6.4" fill="#1186f0"/>
<line x1="302.7" x2="907.8" y1="487.3" y2="487.3" stroke="#e5e9ec" stroke-width="1.1"/>
<text x="293.3" y="490.3" font-size="8.4" fill="#7e8084" text-anchor="middle">0</text>
<line x1="302.7" x2="907.8" y1="468.3" y2="468.3" stroke="#e5e9ec" stroke-width="1.1"/>
<text x="293.3" y="471.3" font-size="8.4" fill="#7e8084" text-anchor="middle">2</text>
<line x1="302.7" x2="907.8" y1="449.3" y2="449.3" stroke="#e5e9ec" stroke-width="1.1"/>
<text x="293.3" y="452.3" font-size="8.4" fill="#7e8084" text-anchor="middle">4</text>
<line x1="302.7" x2="907.8" y1="430.3" y2="430.3" stroke="#e5e9ec" stroke-width="1.1"/>
<text x="293.3" y="433.3" font-size="8.4" fill="#7e8084" text-anchor="middle">6</text>
<line x1="302.7" x2="907.8" y1="411.3" y2="411.3" stroke="#e5e9ec" stroke-width="1.1"/>
<text x="293.3" y="414.3" font-size="8.4" fill="#7e8084" text-anchor="middle">8</text>
<rect x="323.9" y="446.7" width="19.4" height="40.6" fill="#fc1a8e"/>
<text x="333.6" y="500.2" font-size="7.8" fill="#7e8084" text-anchor="middle">Title 1</text>
<rect x="384.4" y="463.6" width="19.4" height="23.8" fill="#fc1a8e"/>
<text x="394.1" y="500.2" font-size="7.8" fill="#7e8084" text-anchor="middle">Title 2</text>
<rect x="444.9" y="454.1" width="19.4" height="33.2" fill="#fc1a8e"/>
<text x="454.6" y="500.2" font-size="7.8" fill="#7e8084" text-anchor="middle">Title 3</text>
<rect x="505.4" y="444.6" width="19.4" height="42.8" fill="#fc1a8e"/>
<text x="515.1" y="500.2" font-size="7.8" fill="#7e8084" text-anchor="middle">Title 4</text>
<rect x="565.9" y="464.5" width="19.4" height="22.8" fill="#fc1a8e"/>
<text x="575.6" y="500.2" font-size="7.8" fill="#7e8084" text-anchor="middle">Title 5</text>
<rect x="626.4" y="471.6" width="19.4" height="15.7" fill="#fc1a8e"/>
<text x="636.1" y="500.2" font-size="7.8" fill="#7e8084" text-anchor="middle">Title 6</text>
<rect x="686.9" y="443.6" width="19.4" height="43.7" fill="#fc1a8e"/>
<text x="696.6" y="500.2" font-size="7.8" fill="#7e8084" text-anchor="middle">Titlr 7</text>
<rect x="747.4" y="427.9" width="19.4" height="59.4" fill="#fc1a8e"/>
<text x="757.1" y="500.2" font-size="7.8" fill="#7e8084" text-anchor="middle">Title 8</text>
<rect x="807.9" y="456.9" width="19.4" height="30.4" fill="#fc1a8e"/>
<text x="817.6" y="500.2" font-size="7.8" fill="#7e8084" text-anchor="middle">Title 9</text>
<rect x="868.4" y="448.4" width="19.4" height="38.9" fill="#fc1a8e"/>
<text x="878.1" y="500.2" font-size="7.8" fill="#7e8084" text-anchor="middle">Title 10</text>
<circle cx="630.7" cy="310.2" r="37.7" fill="#fad7e9" fill-opacity="0.72" stroke="#f6c6de" stroke-opacity="0.6" stroke-width="0.7"/>
<path transform="translate(582.1 260.2)" d="M0 0C-0.8 -4.5 -7.9 -8.5 -7.9 -13.8A7.9 7.9 0 1 1 7.9 -13.8C7.9 -8.5 0.8 -4.5 0 0Z" fill="#14e4f6"/>
<path transform="translate(710.6 242.8)" d="M0 0C-0.8 -4.5 -7.9 -8.5 -7.9 -13.8A7.9 7.9 0 1 1 7.9 -13.8C7.9 -8.5 0.8 -4.5 0 0Z" fill="#1186f0"/>
<path transform="translate(813.1 264.5)" d="M0 0C-0.8 -4.5 -7.9 -8.5 -7.9 -13.8A7.9 7.9 0 1 1 7.9 -13.8C7.9 -8.5 0.8 -4.5 0 0Z" fill="#1186f0"/>
<path transform="translate(849.4 336.3)" d="M0 0C-0.8 -4.5 -7.9 -8.5 -7.9 -13.8A7.9 7.9 0 1 1 7.9 -13.8C7.9 -8.5 0.8 -4.5 0 0Z" fill="#14e4f6"/>
<path transform="translate(630.7 322.5)" d="M0 0C-0.8 -4.5 -7.9 -8.5 -7.9 -13.8A7.9 7.9 0 1 1 7.9 -13.8C7.9 -8.5 0.8 -4.5 0 0Z" fill="#fc1a8e"/>
<g fill="#bccddc">
<rect x="141.8" y="220.3" width="3.6" height="6.9"/>
<rect x="147.4" y="215.9" width="3.6" height="11.3"/>
<rect x="153.2" y="219.1" width="3.6" height="8.1"/>
<rect x="159.2" y="213.3" width="3.6" height="13.9"/>
</g>
<path d="M140.1 227.7H164.6" stroke="#bcc5cd" stroke-width="1" fill="none"/>
<path d="M140.7 215.6L149.4 207.6L155.2 213L163.6 204.8M158.9 204.6H163.9V209.5" stroke="#bcc5cd" stroke-width="1.1" fill="none" stroke-linejoin="miter"/>
<g fill="none" stroke="#bccddc" stroke-width="2.7" stroke-linecap="butt"><path d="M151.5 401Q142.3 401.2 142.3 392V385"/><path d="M154.5 387.2Q163.6 387 163.6 396V403.5"/></g>
<path d="M138.3 385.8L142.3 379.9L146.3 385.8Z" fill="#bccddc"/><path d="M159.7 402.9L163.6 408.4L167.5 402.9Z" fill="#bccddc"/>
<circle cx="153" cy="394.1" r="6.1" fill="#c3d3e0" stroke="#b0c4d5" stroke-width="1.6"/>
<text x="153" y="397.9" font-size="10.6" font-weight="700" fill="#ffffff" text-anchor="middle">$</text>
</svg>
<div class="t" id="t1"><span style="left:336.47px;letter-spacing:-1.200px;transform:scaleX(0.8829);transform-origin:0 0">KPI</span> <span style="left:407.85px;letter-spacing:-0.467px">Dashboards</span></div>
<div class="t" id="t2"><span style="left:307.35px;letter-spacing:-0.192px">Present</span> <span style="left:361.65px;letter-spacing:0.925px">complex</span> <span style="left:427.45px;letter-spacing:0.411px">data in an easy-to-understand way</span></div>
<div class="t" id="v1"><span style="left:131.50px;letter-spacing:-0.650px">3.45%</span></div>
<div class="t" id="a1"><span style="left:85.10px;letter-spacing:-0.175px">Present</span> <span style="left:132.40px;letter-spacing:0.692px">complex</span> <span style="left:188.80px;letter-spacing:0.900px">data</span></div>
<div class="t" id="a2"><span style="left:111.05px;letter-spacing:0.246px">in an easy-to.</span></div>
<div class="t" id="v2"><span style="left:131.65px;letter-spacing:-0.712px">4.53%</span></div>
<div class="t" id="b1"><span style="left:85.10px;letter-spacing:-0.175px">Present</span> <span style="left:132.40px;letter-spacing:0.692px">complex</span> <span style="left:188.80px;letter-spacing:0.900px">data</span></div>
<div class="t" id="b2"><span style="left:111.05px;letter-spacing:0.246px">in an easy-to.</span></div>
<div class="t" id="l0a"><span style="left:328.30px;letter-spacing:-0.133px">Present</span> <span style="left:372.20px;letter-spacing:0.525px">complex</span> <span style="left:423.50px;letter-spacing:0.489px">data in an</span></div>
<div class="t" id="l0b"><span style="left:328.80px;letter-spacing:0.336px">easy-to-understand.</span></div>
<div class="t" id="l1a"><span style="left:328.30px;letter-spacing:-0.133px">Present</span> <span style="left:372.20px;letter-spacing:0.525px">complex</span> <span style="left:423.50px;letter-spacing:0.489px">data in an</span></div>
<div class="t" id="l1b"><span style="left:328.80px;letter-spacing:0.336px">easy-to-understand.</span></div>
<div class="t" id="l2a"><span style="left:328.30px;letter-spacing:-0.133px">Present</span> <span style="left:372.20px;letter-spacing:0.525px">complex</span> <span style="left:423.50px;letter-spacing:0.489px">data in an</span></div>
<div class="t" id="l2b"><span style="left:328.80px;letter-spacing:0.336px">easy-to-understand.</span></div>
</body>
</html>
